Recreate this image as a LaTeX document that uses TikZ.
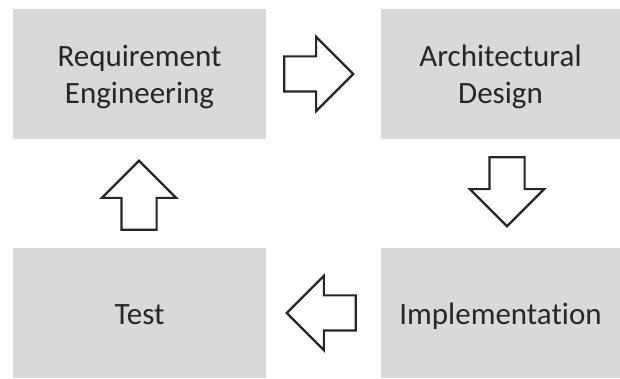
\documentclass[tikz,border=0pt]{standalone}
\usepackage{fontspec}
\setmainfont{Carlito}[RawFeature={-liga;-clig;-dlig}]
\usetikzlibrary{shapes.arrows,calc}
\definecolor{boxgray}{HTML}{D9D9D9}
\definecolor{ink}{HTML}{262626}
\newcommand{\nolig}{\kern0pt{}}
\tikzset{
  box/.style={fill=boxgray, draw=none, minimum width=253pt, minimum height=130pt,
    inner sep=0pt, align=center, text=ink, font=\fontsize{31}{37}\selectfont},
  boxr/.style={box, minimum width=239pt},
  oneline/.style={text height=26pt, text depth=2pt},
  blockarrow/.style={single arrow, draw=ink, line width=2.2pt, fill=white,
    minimum height=69pt, inner sep=16.5pt, single arrow head extend=19.5pt,
    single arrow tip angle=90, single arrow head indent=0pt, anchor=tip}
}
\begin{document}
\begin{tikzpicture}[x=1pt,y=1pt]
  \useasboundingbox (0,0) rectangle (620,379);
  \fill[white] (0,0) rectangle (620,379);
  \node[box, text depth=0pt] (re) at (139.5,305) {Requirement\\Engineering};
  \node[boxr, text depth=0pt] (ad) at (500.5,305) {Architect\nolig ural\\Design};
  \node[box, oneline] (te) at (139.5,66) {Test};
  \node[boxr, oneline] (im) at (500.5,66) {Implementat\nolig ion};
  \node[blockarrow] (a1) at ($(ad.west)+(-26,0)$) {};
  \node[blockarrow, shape border rotate=270] (a2) at ($(im.north)+(6.5,20)$) {};
  \node[blockarrow, shape border rotate=180] (a3) at ($(te.east)+(19,0)$) {};
  \node[blockarrow, shape border rotate=90] (a4) at ($(re.south)+(-0.5,-20)$) {};
\end{tikzpicture}
\end{document}
